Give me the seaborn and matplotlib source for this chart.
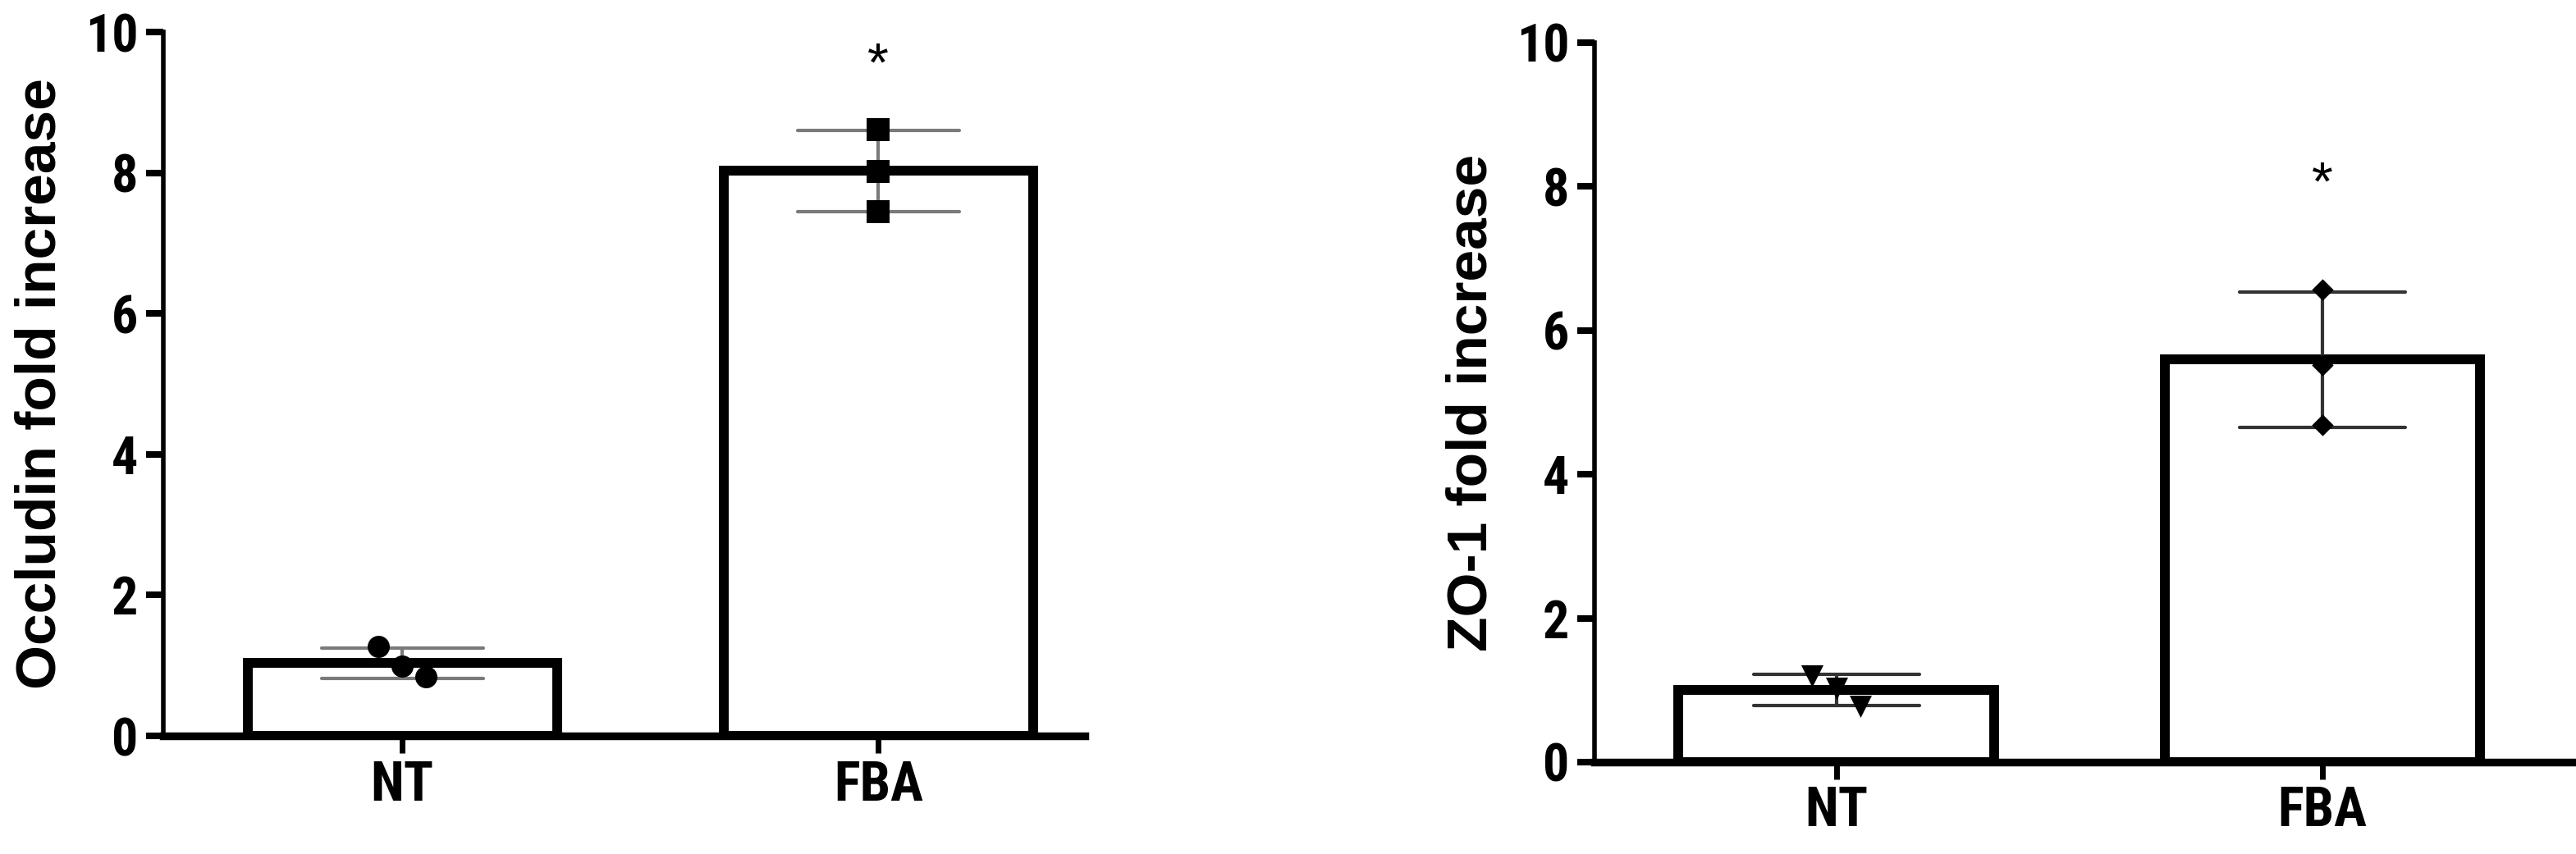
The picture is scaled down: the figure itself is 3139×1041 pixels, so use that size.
import numpy as np
import pandas as pd
import matplotlib
matplotlib.use("Agg")
import matplotlib.pyplot as plt
import seaborn as sns

# valores (3 replicatas por grupo)
groups = ["NT", "FBA"]
occludin_nt = [1.27, 0.99, 0.84]
occludin_fba = [8.61, 8.02, 7.45]
zo1_nt = [1.20, 1.03, 0.78]
zo1_fba = [6.57, 5.52, 4.69]
y_ticks = [0, 2, 4, 6, 8, 10]

sns.set_style("ticks")
plt.rcParams["font.family"] = ["Roboto Condensed", "DejaVu Sans"]
for k in ["text.color", "axes.labelcolor", "xtick.color", "ytick.color", "axes.edgecolor"]:
    plt.rcParams[k] = "black"


def make_df(nt, fba):
    return pd.DataFrame({
        "group": ["NT"] * len(nt) + ["FBA"] * len(fba),
        "value": list(nt) + list(fba),
    })


def draw_panel(ax, df, ylabel, markers, err_color, star_y, xlim):
    sns.barplot(data=df, x="group", y="value", order=groups, estimator="mean",
                errorbar="sd", width=0.65, capsize=0.34, color="white",
                edgecolor="black", linewidth=8.6,
                err_kws={"color": err_color, "linewidth": 3}, ax=ax)

    # pontos individuais, abertos um pouco quando se sobrepõem (estilo Prism)
    spread = {"NT": [-0.05, 0.0, 0.05], "FBA": [0.0, 0.0, 0.0]}
    for i, g in enumerate(groups):
        vals = df.loc[df["group"] == g, "value"].to_numpy()
        mk, size = markers[g]
        sns.scatterplot(x=i + np.array(spread[g]), y=vals, marker=mk, s=size,
                        color="black", linewidth=0, legend=False, ax=ax, zorder=4)

    ax.text(1, star_y, "*", ha="center", va="baseline", fontsize=48,
            family=["Liberation Sans", "DejaVu Sans"])

    ax.set_xlim(xlim)
    ax.set_ylim(0, 10)
    ax.set_yticks(y_ticks)
    ax.set_xlabel("")
    ax.set_ylabel(ylabel, fontsize=50, fontweight="bold",
                  family=["Liberation Sans", "DejaVu Sans"], labelpad=16)

    sns.despine(ax=ax)
    ax.spines["left"].set_linewidth(4)
    ax.spines["bottom"].set_linewidth(6.8)
    ax.tick_params(axis="y", length=15, width=5.8, pad=7, labelsize=46)
    ax.tick_params(axis="x", length=15, width=5, pad=5.5, labelsize=48)
    for lbl in ax.get_xticklabels() + ax.get_yticklabels():
        lbl.set_fontweight("bold")


fig = plt.figure(figsize=(31.39, 10.41), dpi=100)
ax1 = fig.add_axes([0.0634, 0.1383, 0.3578, 0.8242])
ax2 = fig.add_axes([0.619, 0.1076, 0.381, 0.8425])

draw_panel(ax1, make_df(occludin_nt, occludin_fba), "Occludin fold increase",
           {"NT": ("o", 377), "FBA": ("s", 380)}, "#7a7a7a", 9.31, (-0.502, 1.434))
draw_panel(ax2, make_df(zo1_nt, zo1_fba), "ZO-1 fold increase",
           {"NT": ("v", 380), "FBA": ("D", 180)}, "#333333", 7.82, (-0.498, 1.522))

fig.savefig("out.png", dpi=100)
